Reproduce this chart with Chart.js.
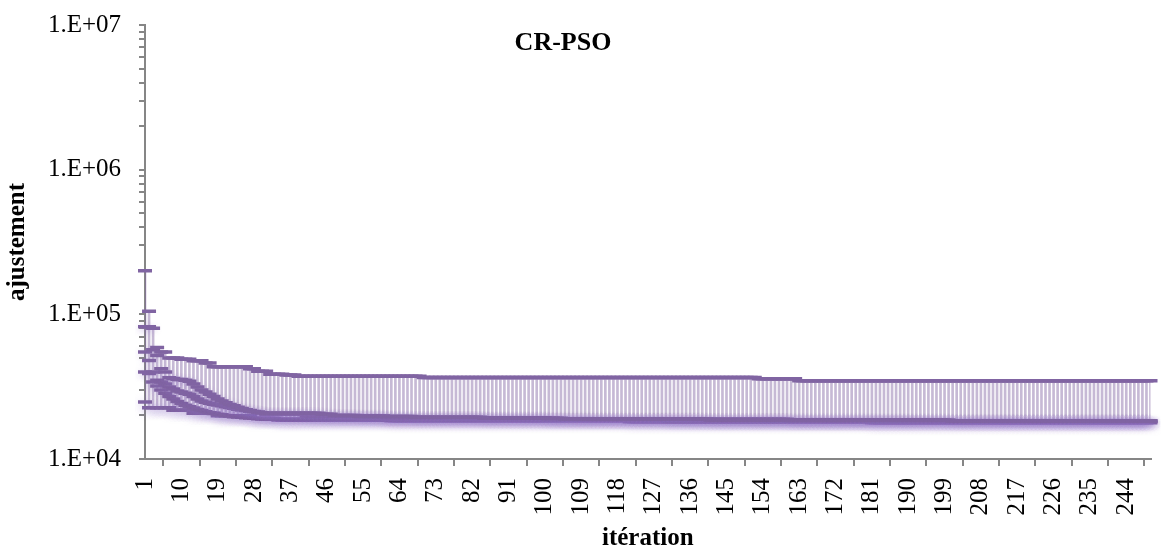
<!doctype html>
<html lang="fr">
<head>
<meta charset="utf-8">
<title>CR-PSO</title>
<style>
  html, body { margin: 0; padding: 0; background: #fff; }
</style>
</head>
<body>
<canvas id="chart" width="1161" height="554"></canvas>
<script src="https://cdn.jsdelivr.net/npm/chart.js"></script>
<script>
// best fitness per iteration, five runs
const runA = [
  200000,105000,80000,59000,55000,55000,50000,50000,50000,48900,
  48900,48900,47800,47800,47800,46000,46000,43500,43500,43500,
  43500,43500,43500,43500,43500,43500,42000,42000,40400,40400,
  40400,38500,38500,38500,38500,38000,38000,38000,37300,37300,
  37300,37300,37300,37300,37300,37300,37300,37300,37300,37300,
  37300,37300,37300,37300,37300,37300,37300,37300,37300,37300,
  37300,37300,37300,37300,37300,37300,37300,37300,37300,36600,
  36600,36600,36600,36600,36600,36600,36600,36600,36600,36600,
  36600,36600,36600,36600,36600,36600,36600,36600,36600,36600,
  36600,36600,36600,36600,36600,36600,36600,36600,36600,36600,
  36600,36600,36600,36600,36600,36600,36600,36600,36600,36600,
  36600,36600,36600,36600,36600,36600,36600,36600,36600,36600,
  36600,36600,36600,36600,36600,36600,36600,36600,36600,36600,
  36600,36600,36600,36600,36600,36600,36600,36600,36600,36600,
  36600,36600,36600,36600,36600,36600,36600,36600,36600,36600,
  36600,36600,35800,35800,35800,35800,35800,35800,35800,35800,
  35800,35800,34700,34700,34700,34700,34700,34700,34700,34700,
  34700,34700,34700,34700,34700,34700,34700,34700,34700,34700,
  34700,34700,34700,34700,34700,34700,34700,34700,34700,34700,
  34700,34700,34700,34700,34700,34700,34700,34700,34700,34700,
  34700,34700,34700,34700,34700,34700,34700,34700,34700,34700,
  34700,34700,34700,34700,34700,34700,34700,34700,34700,34700,
  34700,34700,34700,34700,34700,34700,34700,34700,34700,34700,
  34700,34700,34700,34700,34700,34700,34700,34700,34700,34700,
  34700,34700,34700,34700,34700,34700,34700,34700,34700,34700
];
const runB = [
  82000,82000,57000,52000,42000,40000,36500,36000,35500,35500,
  35000,34500,33000,31500,30000,29000,28000,27000,26000,25200,
  24500,23800,23300,22800,22300,21900,21600,21300,21100,20900,
  20700,20700,20700,20700,20700,20700,20700,20700,20700,20700,
  20700,20700,20700,20700,20400,20400,20400,20000,20000,20000,
  20000,20000,20000,19700,19700,19700,19700,19700,19700,19700,
  19700,19700,19700,19700,19700,19700,19700,19400,19400,19400,
  19400,19400,19400,19400,19400,19400,19400,19400,19400,19400,
  19400,19400,19400,19400,19100,19100,19100,19100,19100,19100,
  19100,19100,19100,19100,19100,19100,19100,19100,19100,19100,
  19100,19100,19100,19100,18900,18900,18900,18900,18900,18900,
  18900,18900,18900,18900,18900,18900,18900,18900,18900,18900,
  18900,18900,18900,18900,18900,18900,18900,18900,18900,18900,
  18900,18900,18900,18900,18900,18900,18900,18900,18900,18900,
  18600,18600,18600,18600,18600,18600,18600,18600,18600,18600,
  18600,18600,18600,18600,18600,18600,18600,18600,18600,18600,
  18600,18600,18600,18600,18600,18600,18600,18600,18600,18600,
  18600,18600,18600,18600,18600,18600,18600,18600,18600,18600,
  18600,18600,18600,18600,18600,18600,18600,18600,18600,18600,
  18600,18600,18600,18600,18600,18600,18600,18600,18600,18600,
  18300,18300,18300,18300,18300,18300,18300,18300,18300,18300,
  18300,18300,18300,18300,18300,18300,18300,18300,18300,18300,
  18300,18300,18300,18300,18300,18300,18300,18300,18300,18300,
  18300,18300,18300,18300,18300,18300,18300,18300,18300,18300,
  18300,18300,18300,18300,18300,18300,18300,18300,18300,18300
];
const runC = [
  55000,48000,40000,35000,34000,33000,31500,30500,29500,29000,
  28500,28000,27000,26000,25200,24700,24300,23900,23600,23300,
  23000,22700,22400,22100,21800,21600,21400,21200,21000,20800,
  20400,20400,20400,20400,20400,20400,20400,20400,20400,20400,
  19800,19800,19800,19800,19800,19800,19800,19800,19800,19800,
  19800,19800,19800,19800,19800,19800,19800,19800,19800,19800,
  19300,19300,19300,19300,19300,19300,19300,19300,19300,19300,
  19300,19300,19300,19300,19300,19300,19300,19300,19300,19300,
  19300,19300,19300,19300,19300,19300,19300,19300,19300,19300,
  19300,19300,19300,19300,19300,19300,19300,19300,19300,19300,
  18800,18800,18800,18800,18800,18800,18800,18800,18800,18800,
  18800,18800,18800,18800,18800,18800,18800,18800,18800,18800,
  18800,18800,18800,18800,18800,18800,18800,18800,18800,18800,
  18800,18800,18800,18800,18800,18800,18800,18800,18800,18800,
  18800,18800,18800,18800,18800,18800,18800,18800,18800,18800,
  18800,18800,18800,18800,18800,18800,18800,18800,18800,18800,
  18400,18400,18400,18400,18400,18400,18400,18400,18400,18400,
  18400,18400,18400,18400,18400,18400,18400,18400,18400,18400,
  18400,18400,18400,18400,18400,18400,18400,18400,18400,18400,
  18400,18400,18400,18400,18400,18400,18400,18400,18400,18400,
  18400,18400,18400,18400,18400,18400,18400,18400,18400,18400,
  18400,18400,18400,18400,18400,18400,18400,18400,18400,18400,
  18400,18400,18400,18400,18400,18400,18400,18400,18400,18400,
  18400,18400,18400,18400,18400,18400,18400,18400,18400,18400,
  18400,18400,18400,18400,18400,18400,18400,18400,18400,18400
];
const runD = [
  24800,22600,22600,22600,22600,22600,22600,21700,21700,21700,
  21700,21700,20700,20700,20700,20700,20700,20700,19900,19900,
  19900,19900,19900,19900,19900,19900,19900,19100,19100,19100,
  19100,19100,19100,18600,18600,18600,18600,18600,18600,18600,
  18600,18600,18600,18600,18600,18600,18600,18600,18600,18600,
  18600,18600,18600,18600,18600,18600,18600,18600,18600,18600,
  18600,18400,18400,18400,18400,18400,18400,18400,18400,18400,
  18400,18400,18400,18400,18400,18400,18400,18400,18400,18400,
  18400,18400,18400,18400,18400,18400,18400,18400,18400,18400,
  18400,18400,18400,18400,18400,18400,18400,18400,18400,18400,
  18400,18400,18400,18400,18400,18400,18400,18400,18400,18400,
  18400,18400,18400,18400,18400,18400,18400,18400,18400,18400,
  18100,18100,18100,18100,18100,18100,18100,18100,18100,18100,
  18100,18100,18100,18100,18100,18100,18100,18100,18100,18100,
  18100,18100,18100,18100,18100,18100,18100,18100,18100,18100,
  18100,18100,18100,18100,18100,18100,18100,18100,18100,18100,
  18100,18100,18100,18100,18100,18100,18100,18100,18100,18100,
  18100,18100,18100,18100,18100,18100,18100,18100,18100,18100,
  17800,17800,17800,17800,17800,17800,17800,17800,17800,17800,
  17800,17800,17800,17800,17800,17800,17800,17800,17800,17800,
  17800,17800,17800,17800,17800,17800,17800,17800,17800,17800,
  17800,17800,17800,17800,17800,17800,17800,17800,17800,17800,
  17800,17800,17800,17800,17800,17800,17800,17800,17800,17800,
  17800,17800,17800,17800,17800,17800,17800,17800,17800,17800,
  17800,17800,17800,17800,17800,17800,17800,17800,17800,17800
];
const runE = [
  40000,39000,34000,32000,30000,28500,27000,26000,25000,24200,
  23500,23000,22500,22000,21600,21200,20900,20600,20400,20200,
  20000,19800,19600,19500,19400,19300,19200,19100,19000,18900,
  18800,18800,18800,18800,18800,18800,18800,18800,18800,18800,
  18800,18800,18800,18800,18800,18800,18800,18800,18800,18800,
  18800,18800,18800,18800,18800,18800,18800,18800,18800,18800,
  18600,18600,18600,18600,18600,18600,18600,18600,18600,18600,
  18600,18600,18600,18600,18600,18600,18600,18600,18600,18600,
  18600,18600,18600,18600,18600,18600,18600,18600,18600,18600,
  18600,18600,18600,18600,18600,18600,18600,18600,18600,18600,
  18600,18600,18600,18600,18600,18600,18600,18600,18600,18600,
  18600,18600,18600,18600,18600,18600,18600,18600,18600,18600,
  18600,18600,18600,18600,18600,18600,18600,18600,18600,18600,
  18200,18200,18200,18200,18200,18200,18200,18200,18200,18200,
  18200,18200,18200,18200,18200,18200,18200,18200,18200,18200,
  18200,18200,18200,18200,18200,18200,18200,18200,18200,18200,
  18200,18200,18200,18200,18200,18200,18200,18200,18200,18200,
  18200,18200,18200,18200,18200,18200,18200,18200,18200,18200,
  18200,18200,18200,18200,18200,18200,18200,18200,18200,18200,
  18200,18200,18200,18200,18200,18200,18200,18200,18200,18200,
  18200,18200,18200,18200,18200,18200,18200,18200,18200,18200,
  18200,18200,18200,18200,18200,18200,18200,18200,18200,18200,
  18200,18200,18200,18200,18200,18200,18200,18200,18200,18200,
  18200,18200,18200,18200,18200,18200,18200,18200,18200,18200,
  18200,18200,18200,18200,18200,18200,18200,18200,18200,18200
];

// y axis ticks: decades plus minor ticks 2..9
const yTicks = [
  10000,20000,30000,40000,50000,60000,70000,80000,90000,
  100000,200000,300000,400000,500000,600000,700000,800000,900000,
  1000000,2000000,3000000,4000000,5000000,6000000,7000000,8000000,9000000,
  10000000
];

const iterations = runA.map((v, i) => String(i + 1));
const runs = [runA, runB, runC, runD, runE];

// high-low line per iteration
const hiLo = iterations.map((_, i) => {
  const vals = runs.map(r => r[i]);
  return [Math.min(...vals), Math.max(...vals)];
});

const purple = '#8064A2';
const serif = "'Liberation Serif', 'Times New Roman', serif";

// soft glow under the markers (set per dataset)
const glow = {
  id: 'glow',
  beforeDatasetDraw(chart, args) {
    const ds = chart.data.datasets[args.index];
    if (!ds.glow) return;
    chart.ctx.save();
    chart.ctx.shadowColor = 'rgba(150,120,200,' + ds.glow[1] + ')';
    chart.ctx.shadowBlur = ds.glow[0];
    chart.ctx.shadowOffsetY = 2;
  },
  afterDatasetDraw(chart, args) {
    if (chart.data.datasets[args.index].glow) chart.ctx.restore();
  }
};

const chartTitle = {
  id: 'chartTitle',
  afterDraw(chart) {
    const ctx = chart.ctx;
    ctx.save();
    ctx.font = 'bold 26px ' + serif;
    ctx.fillStyle = '#000';
    ctx.textAlign = 'center';
    ctx.textBaseline = 'middle';
    ctx.fillText('CR-PSO', 563, 43);
    ctx.restore();
  }
};

function dashes(label, data, glowOpt) {
  return {
    type: 'line',
    label: label,
    data: data,
    showLine: false,
    pointStyle: 'line',
    pointRadius: 7,
    pointBorderWidth: 3.5,
    pointBorderColor: purple,
    pointBackgroundColor: purple,
    borderColor: purple,
    clip: { left: 10, top: 0, right: 10, bottom: 0 },
    order: 1,
    glow: glowOpt
  };
}

new Chart(document.getElementById('chart'), {
  type: 'bar',
  data: {
    labels: iterations,
    datasets: [
      {
        label: 'hi-lo',
        data: hiLo,
        backgroundColor: 'rgba(128,100,162,0.45)',
        barThickness: 2,
        order: 5,
        glow: null
      },
      dashes('A', runA, null),
      dashes('B', runB, [6, 0.3]),
      dashes('C', runC, [6, 0.3]),
      dashes('E', runE, [6, 0.3]),
      dashes('D', runD, [9, 0.35])
    ]
  },
  options: {
    responsive: false,
    animation: false,
    events: [],
    layout: { padding: { top: 25, right: 9, left: 0, bottom: 0 } },
    plugins: {
      legend: { display: false },
      tooltip: { enabled: false }
    },
    scales: {
      x: {
        type: 'category',
        offset: false,
        afterBuildTicks(s) { s.ticks = s.ticks.filter((t, i) => i % 9 === 0); },
        afterFit(s) {
          s.height = 95;
          s.paddingLeft = 0;
          s.paddingRight = 0;
        },
        grid: { drawOnChartArea: false, drawTicks: true, tickLength: 7, color: '#868686', lineWidth: 2 },
        border: { color: '#868686', width: 2 },
        ticks: {
          autoSkip: false, minRotation: 90, maxRotation: 90, padding: 12,
          color: '#000', font: { family: serif, size: 25 }
        },
        title: {
          display: true, text: 'itération', color: '#000',
          font: { family: serif, size: 25, weight: 'bold' },
          padding: { top: 0, bottom: 0 }
        }
      },
      y: {
        type: 'logarithmic',
        min: 10000,
        max: 10000000,
        afterBuildTicks(s) { s.ticks = yTicks.map(v => ({ value: v })); },
        afterFit(s) {
          s.width = 145;
          s.paddingTop = 0;
          s.paddingBottom = 0;
        },
        grid: { drawOnChartArea: false, drawTicks: true, tickLength: 6, color: '#868686', lineWidth: 2 },
        border: { color: '#868686', width: 2 },
        ticks: {
          autoSkip: false, padding: 18, color: '#000',
          font: { family: serif, size: 25 },
          callback(v) {
            const e = Math.log10(v);
            if (Math.abs(e - Math.round(e)) > 1e-9) return '';
            return '1.E+' + String(Math.round(e)).padStart(2, '0');
          }
        },
        title: {
          display: true, text: 'ajustement', color: '#000',
          font: { family: serif, size: 25, weight: 'bold' },
          padding: { top: 3, bottom: 0 }
        }
      }
    }
  },
  plugins: [glow, chartTitle]
});
</script>
</body>
</html>
